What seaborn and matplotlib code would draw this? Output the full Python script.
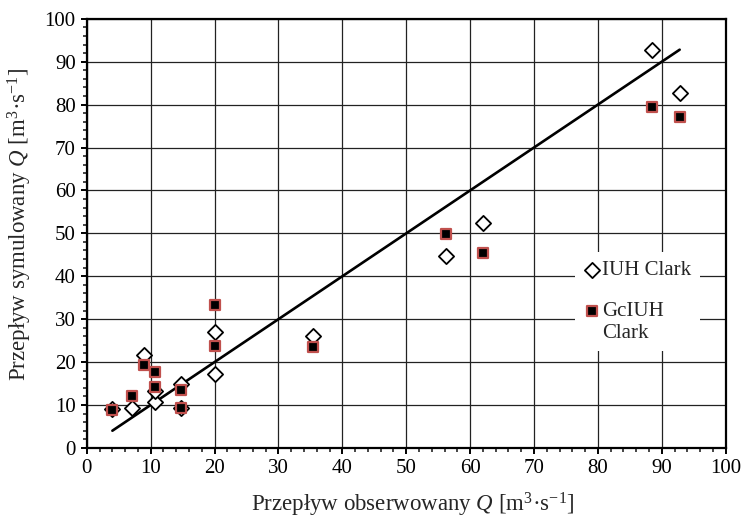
import numpy as np
import pandas as pd
import matplotlib
matplotlib.use("Agg")
import matplotlib.pyplot as plt
import seaborn as sns
from matplotlib.ticker import MultipleLocator
from matplotlib.legend_handler import HandlerPathCollection

# ---- data ----
observed = [4.0, 7.0, 9.0, 10.6, 10.6, 14.7, 14.7, 20.0, 20.0, 35.4, 56.3, 62.0, 88.4, 92.8]
iuh_clark = [9.0, 9.4, 21.7, 10.7, 13.3, 14.9, 9.4, 26.9, 17.2, 26.0, 44.8, 52.5, 92.8, 82.6]
gciuh_clark = [8.8, 12.0, 19.3, 17.7, 14.2, 13.5, 9.3, 33.3, 23.7, 23.6, 49.8, 45.4, 79.5, 77.0]
series_names = ["IUH Clark", "GcIUH\nClark"]
x_ticks = list(range(0, 101, 10))
y_ticks = list(range(0, 101, 10))

sns.set_style("ticks")
plt.rcParams["font.family"] = ["Liberation Serif", "DejaVu Serif"]
plt.rcParams["mathtext.fontset"] = "custom"
plt.rcParams["mathtext.rm"] = "Liberation Serif"
plt.rcParams["mathtext.it"] = "Liberation Serif:italic"

fig = plt.figure(figsize=(7.42, 5.22), dpi=100)
ax = fig.add_axes([0.117, 0.142, 0.861, 0.822])

df = pd.DataFrame({"obs": observed, "iuh": iuh_clark, "gc": gciuh_clark})

# 1:1 line across observed range
line_df = pd.DataFrame({"x": [min(observed), max(observed)],
                        "y": [min(observed), max(observed)]})
sns.lineplot(data=line_df, x="x", y="y", ax=ax, color="black", lw=1.9,
             legend=False, zorder=3)

sns.scatterplot(data=df, x="obs", y="iuh", ax=ax, marker="D", s=60,
                facecolor="white", edgecolor="black", linewidth=1.3,
                label=series_names[0], zorder=4)
sns.scatterplot(data=df, x="obs", y="gc", ax=ax, marker="s", s=60,
                facecolor="black", edgecolor="#C0504D", linewidth=1.6,
                label=series_names[1], zorder=5)

ax.set_xlim(0, 100)
ax.set_ylim(0, 100)
ax.set_xticks(x_ticks)
ax.set_yticks(y_ticks)
ax.xaxis.set_minor_locator(MultipleLocator(2))
ax.yaxis.set_minor_locator(MultipleLocator(2))
ax.tick_params(axis="both", which="major", direction="out", length=4,
               width=1.4, labelsize=15, colors="black", pad=4)
ax.tick_params(axis="both", which="minor", direction="out", length=3,
               width=1.2)

ax.grid(True, which="major", color="#222222", lw=0.9)
ax.set_axisbelow(True)
for sp in ax.spines.values():
    sp.set_visible(True)
    sp.set_color("black")
    sp.set_linewidth(1.6)

ax.set_xlabel(r"Przepływ obserwowany $Q$ [m$^3$·s$^{-1}$]", fontsize=16.5)
ax.set_ylabel(r"Przepływ symulowany $Q$ [m$^3$·s$^{-1}$]", fontsize=16.5)
ax.xaxis.set_label_coords(0.51, -0.1)
ax.yaxis.set_label_coords(-0.083, 0.52)

handles, labels = ax.get_legend_handles_labels()
hmap = {handles[1]: HandlerPathCollection(yoffsets=[1.3])}
leg = ax.legend(handles, labels, handler_map=hmap,
                loc="upper left", bbox_to_anchor=(0.748, 0.48), fontsize=15,
                frameon=True, facecolor="white", edgecolor="none", framealpha=1,
                fancybox=False, handletextpad=0.1, handlelength=0.8,
                labelspacing=1.05, borderpad=0.4)

fig.savefig("out.png", dpi=100)
